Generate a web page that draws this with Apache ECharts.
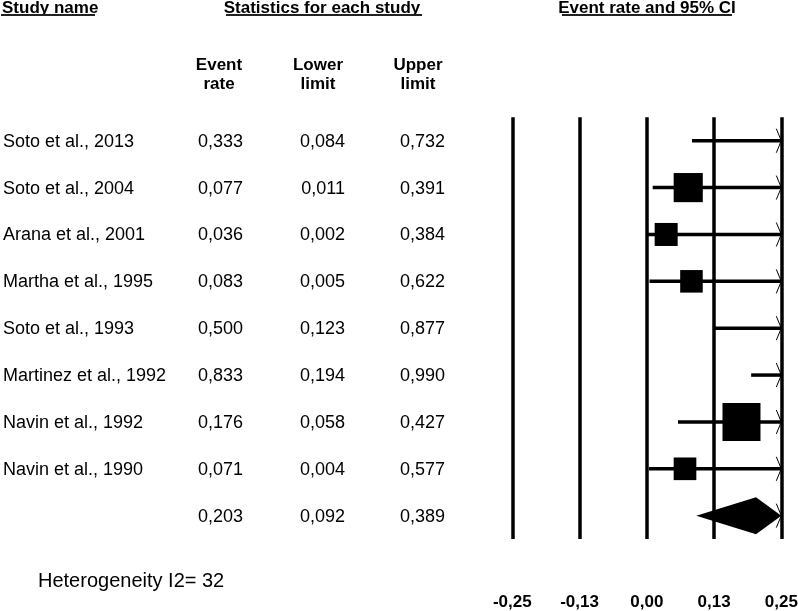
<!DOCTYPE html>
<html><head><meta charset="utf-8">
<script src="https://cdn.jsdelivr.net/npm/echarts@6/dist/echarts.min.js"></script>
<style>html,body{margin:0;padding:0;background:#fff}#c{width:798px;height:611px}</style>
</head><body><div id="c"></div>
<script>
// ---- data ----
const studies = ['Soto et al., 2013','Soto et al., 2004','Arana et al., 2001','Martha et al., 1995','Soto et al., 1993','Martinez et al., 1992','Navin et al., 1992','Navin et al., 1990'];
const eventRate  = [0.333,0.077,0.036,0.083,0.500,0.833,0.176,0.071];
const lowerLimit = [0.084,0.011,0.002,0.005,0.123,0.194,0.058,0.004];
const upperLimit = [0.732,0.391,0.384,0.622,0.877,0.990,0.427,0.577];
const relWeight  = [16.96,13.53,8.44,8.11,14.24,7.51,23.02,8.18]; // relative weights (%)
const summaryRate = 0.203, summaryLower = 0.092, summaryUpper = 0.389;
const tickLabels = ['-0,25','-0,13','0,00','0,13','0,25'];
const heterogeneityI2 = 32;

// ---- layout / style ----
const FONT = "'Liberation Sans', Arial, Helvetica, sans-serif";
const AX_MIN = -0.25, AX_MAX = 0.25, AX_INT = 0.125;
const colName = 3, colRate = 243, colLower = 345, colUpper = 445;
const sqScale = 7.92;
const fmt = v => v.toFixed(3).replace('.', ',');
const nRows = studies.length + 1;

const chart = echarts.init(document.getElementById('c'), null, {renderer:'canvas'});

const tableData = [];
for (let i = 0; i < nRows; i++) tableData.push([0, i]);
const forestData = studies.map((s, i) => [lowerLimit[i], upperLimit[i], eventRate[i], relWeight[i], i]);

function chevron(x, y) {
  return {type:'polyline', shape:{points:[[x-5,y-12],[x,y],[x-5,y+12]]}, style:{stroke:'#000', lineWidth:1, fill:null}};
}

const option = {
  backgroundColor:'#fff',
  animation:false,
  grid:[
    {left:512.3, right:16.7, top:117.3, bottom:71.9, outerBoundsMode:'none', containLabel:false},
    {left:0, width:512, top:117.3, bottom:71.9, outerBoundsMode:'none', containLabel:false}
  ],
  xAxis:[
    {gridIndex:0, type:'value', min:AX_MIN, max:AX_MAX, interval:AX_INT,
     axisLine:{show:false}, axisTick:{show:false},
     splitLine:{show:true, showMinLine:true, showMaxLine:true, lineStyle:{color:'#000', width:3.5}},
     axisLabel:{show:true, margin:55, fontFamily:FONT, fontSize:17, fontWeight:'bold', color:'#000',
       showMinLabel:true, showMaxLabel:true, hideOverlap:false,
       formatter:v => tickLabels[Math.round((v - AX_MIN)/AX_INT)]}},
    {gridIndex:1, type:'value', min:0, max:512, show:false}
  ],
  yAxis:[
    {gridIndex:0, type:'value', min:-0.5, max:nRows-0.5, inverse:true, show:false},
    {gridIndex:1, type:'value', min:-0.5, max:nRows-0.5, inverse:true, show:false}
  ],
  series:[
    {
      type:'custom', xAxisIndex:1, yAxisIndex:1, data:tableData, silent:true,
      renderItem:(params, api) => {
        const i = params.dataIndex;
        const y = api.coord([0, api.value(1)])[1] + 1;
        const isSum = i >= studies.length;
        const r = isSum ? summaryRate : eventRate[i];
        const lo = isSum ? summaryLower : lowerLimit[i];
        const up = isSum ? summaryUpper : upperLimit[i];
        const st = (txt, x, align) => ({type:'text', x:x, y:y,
          style:{text:txt, fill:'#000', font:'18px ' + FONT, textAlign:align, textVerticalAlign:'middle'}});
        const children = [];
        if (!isSum) children.push(st(studies[i], colName, 'left'));
        children.push(st(fmt(r), colRate, 'right'));
        children.push(st(fmt(lo), colLower, 'right'));
        children.push(st(fmt(up), colUpper, 'right'));
        return {type:'group', children:children};
      }
    },
    {
      type:'custom', xAxisIndex:0, yAxisIndex:0, data:forestData, silent:true, clip:false,
      renderItem:(params, api) => {
        const lo = api.value(0), up = api.value(1), r = api.value(2), w = api.value(3), row = api.value(4);
        const a = api.coord([Math.max(lo, AX_MIN), row]);
        const b = api.coord([Math.min(up, AX_MAX), row]);
        const y = a[1];
        const children = [{type:'line', shape:{x1:a[0], y1:y, x2:b[0], y2:y}, style:{stroke:'#000', lineWidth:3.5}}];
        if (up > AX_MAX) children.push(chevron(b[0], y));
        if (r >= AX_MIN && r <= AX_MAX) {
          const c = api.coord([r, row]);
          const s = sqScale * Math.sqrt(w);
          children.push({type:'rect', shape:{x:c[0]-s/2, y:y-s/2, width:s, height:s}, style:{fill:'#000'}});
        }
        return {type:'group', children:children};
      }
    },
    {
      type:'custom', xAxisIndex:0, yAxisIndex:0, data:[[summaryLower, summaryUpper, summaryRate, studies.length]], silent:true, clip:false,
      renderItem:(params, api) => {
        const lo = api.value(0), up = api.value(1), r = api.value(2), row = api.value(3);
        const pl = api.coord([Math.max(lo, AX_MIN), row]);
        const pr = api.coord([Math.min(up, AX_MAX), row]);
        const pc = api.coord([r, row]);
        const h = 18.5;
        const children = [{type:'polygon', shape:{points:[[pl[0],pl[1]],[pc[0],pc[1]-h],[pr[0],pr[1]],[pc[0],pc[1]+h]]}, style:{fill:'#000'}}];
        if (up > AX_MAX) children.push(chevron(pr[0], pr[1]));
        return {type:'group', children:children};
      }
    }
  ],
  graphic:[
    {type:'text', x:2, y:8, style:{text:'Study name', font:'bold 17px ' + FONT, fill:'#000', textVerticalAlign:'middle'}},
    {type:'text', x:322, y:8, style:{text:'Statistics for each study', font:'bold 17px ' + FONT, fill:'#000', textAlign:'center', textVerticalAlign:'middle'}},
    {type:'text', x:647, y:8, style:{text:'Event rate and 95% CI', font:'bold 17px ' + FONT, fill:'#000', textAlign:'center', textVerticalAlign:'middle'}},
    {type:'line', shape:{x1:1, y1:15, x2:95, y2:15}, style:{stroke:'#222', lineWidth:2}},
    {type:'line', shape:{x1:226, y1:15, x2:422, y2:15}, style:{stroke:'#222', lineWidth:2}},
    {type:'line', shape:{x1:562, y1:15, x2:732, y2:15}, style:{stroke:'#222', lineWidth:2}},
    {type:'text', x:219, y:65, style:{text:'Event', font:'bold 17px ' + FONT, fill:'#000', textAlign:'center', textVerticalAlign:'middle'}},
    {type:'text', x:219, y:84, style:{text:'rate', font:'bold 17px ' + FONT, fill:'#000', textAlign:'center', textVerticalAlign:'middle'}},
    {type:'text', x:318, y:65, style:{text:'Lower', font:'bold 17px ' + FONT, fill:'#000', textAlign:'center', textVerticalAlign:'middle'}},
    {type:'text', x:318, y:84, style:{text:'limit', font:'bold 17px ' + FONT, fill:'#000', textAlign:'center', textVerticalAlign:'middle'}},
    {type:'text', x:418, y:65, style:{text:'Upper', font:'bold 17px ' + FONT, fill:'#000', textAlign:'center', textVerticalAlign:'middle'}},
    {type:'text', x:418, y:84, style:{text:'limit', font:'bold 17px ' + FONT, fill:'#000', textAlign:'center', textVerticalAlign:'middle'}},
    {type:'text', x:38, y:581, style:{text:'Heterogeneity I2= ' + heterogeneityI2, font:'20px ' + FONT, fill:'#000', textVerticalAlign:'middle'}}
  ]
};
chart.setOption(option);
</script>
</body></html>
